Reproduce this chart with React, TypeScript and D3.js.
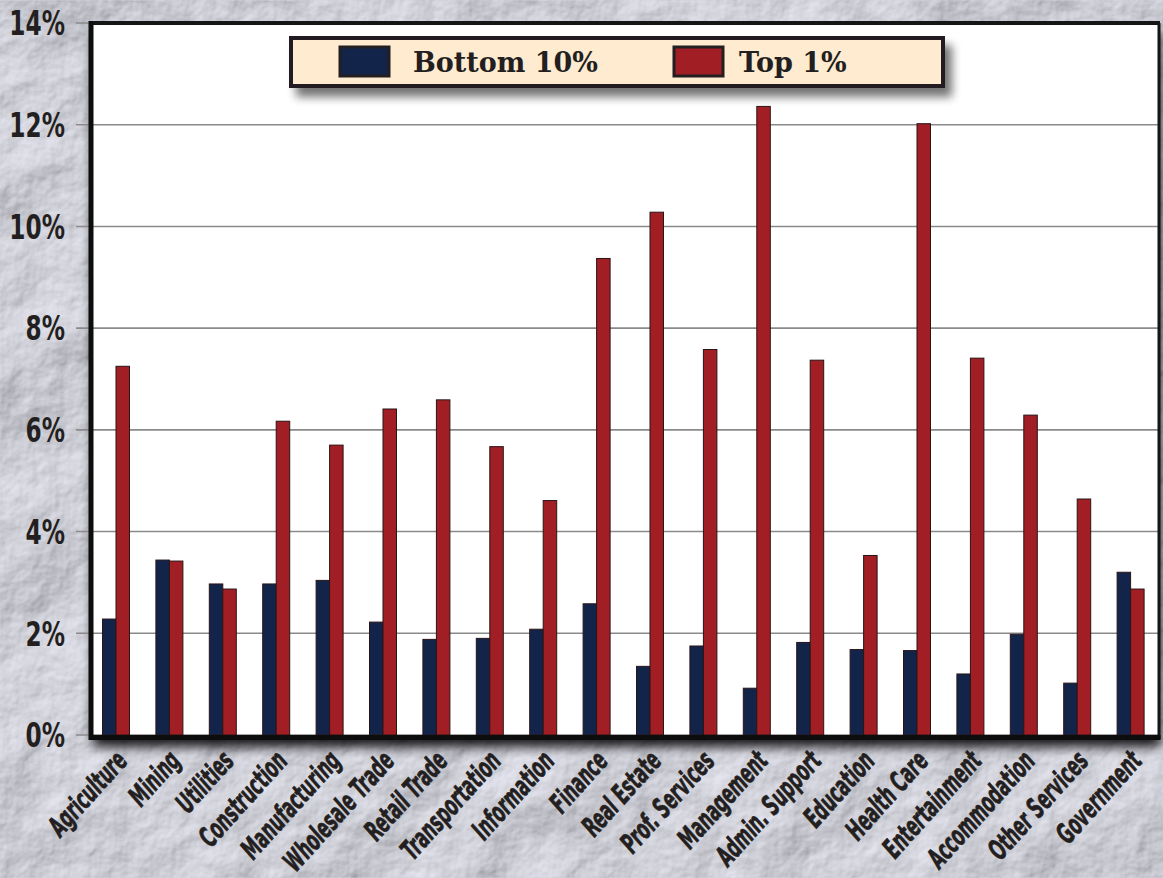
import React from "react";
import * as d3 from "d3";

const categories = [
  "Agriculture", "Mining", "Utilities", "Construction", "Manufacturing",
  "Wholesale Trade", "Retail Trade", "Transportation", "Information", "Finance",
  "Real Estate", "Prof. Services", "Management", "Admin. Support", "Education",
  "Health Care", "Entertainment", "Accommodation", "Other Services", "Government",
];
const bottom10 = [2.28, 3.44, 2.97, 2.97, 3.04, 2.22, 1.88, 1.9, 2.08, 2.58, 1.35, 1.75, 0.92, 1.82, 1.68, 1.66, 1.2, 1.98, 1.02, 3.2];
const top1 = [7.25, 3.42, 2.87, 6.17, 5.7, 6.41, 6.59, 5.67, 4.61, 9.37, 10.28, 7.58, 12.36, 7.37, 3.53, 12.02, 7.41, 6.29, 4.64, 2.87];
const seriesNames = ["Bottom 10%", "Top 1%"];
const seriesColors = ["#13244b", "#a11e24"];
const yTicks = [0, 2, 4, 6, 8, 10, 12, 14];

const W = 1163;
const H = 878;
const plotLeft = 91;
const plotRight = 1159;
const plotTop = 23;
const plotBottom = 735;

const sansFont = "'DejaVu Sans Condensed', 'DejaVu Sans', sans-serif";
const serifFont = "'DejaVu Serif', 'Liberation Serif', serif";

export default function App() {
  const y = d3.scaleLinear().domain([0, 14]).range([plotBottom, plotTop]);
  const x0 = d3.scaleBand<string>().domain(categories).range([plotLeft + 1, plotRight + 1]);
  const x1 = d3.scaleBand<string>().domain(seriesNames).range([0, 27]);
  const barOffset = 10.5;
  const values = [bottom10, top1];
  const legendX = [340, 674];
  const legendTextX = [413, 739];

  return (
    <svg width={W} height={H} style={{ position: "absolute", left: 0, top: 0, display: "block" }}>
      <defs>
        <filter id="paper" x="0" y="0" width="100%" height="100%">
          <feTurbulence type="fractalNoise" baseFrequency="0.007" numOctaves="6" seed="23" result="noise" />
          <feDiffuseLighting in="noise" lightingColor="#e4e4ee" surfaceScale="11" diffuseConstant="1.1" result="lit">
            <feDistantLight azimuth="235" elevation="47" />
          </feDiffuseLighting>
        </filter>
        <filter id="plotShadow" x="-5%" y="-5%" width="112%" height="115%">
          <feGaussianBlur in="SourceAlpha" stdDeviation="6" />
          <feOffset dx="2" dy="10" result="b" />
          <feComponentTransfer>
            <feFuncA type="linear" slope="0.9" />
          </feComponentTransfer>
          <feMerge>
            <feMergeNode />
            <feMergeNode in="SourceGraphic" />
          </feMerge>
        </filter>
        <filter id="legendShadow" x="-5%" y="-30%" width="115%" height="190%">
          <feGaussianBlur in="SourceAlpha" stdDeviation="5" />
          <feOffset dx="7" dy="9" />
          <feComponentTransfer>
            <feFuncA type="linear" slope="0.55" />
          </feComponentTransfer>
          <feMerge>
            <feMergeNode />
            <feMergeNode in="SourceGraphic" />
          </feMerge>
        </filter>
      </defs>

      {/* textured background */}
      <rect x={0} y={0} width={W} height={H} fill="#c8c8d2" />
      <rect x={0} y={0} width={W} height={H} filter="url(#paper)" />

      {/* plot area */}
      <rect x={plotLeft} y={plotTop} width={plotRight - plotLeft} height={plotBottom - plotTop + 2} fill="#ffffff" filter="url(#plotShadow)" />

      {/* gridlines and ticks */}
      {yTicks.map((t) => (
        <g key={t}>
          <line x1={76} x2={plotRight} y1={y(t)} y2={y(t)} stroke="#8a8a8a" strokeWidth={1.6} />
          <text
            transform={`translate(65,${y(t)}) scale(0.76,1)`}
            dy="0.36em"
            textAnchor="end"
            fontFamily={sansFont}
            fontWeight="bold"
            fontSize={34}
            fill="#231f20"
          >
            {t}%
          </text>
        </g>
      ))}

      {/* bars */}
      {categories.map((c, i) => (
        <g key={c} transform={`translate(${x0(c)! + barOffset},0)`}>
          {seriesNames.map((s, k) => {
            const v = values[k][i];
            return (
              <rect
                key={s}
                x={x1(s)!}
                y={y(v)}
                width={x1.bandwidth()}
                height={y(0) - y(v)}
                fill={seriesColors[k]}
                stroke="#2a1416"
                strokeWidth={1}
              />
            );
          })}
        </g>
      ))}

      {/* frame */}
      <line x1={plotLeft - 0.5} x2={plotRight + 1} y1={plotTop} y2={plotTop} stroke="#151515" strokeWidth={4} />
      <line x1={plotRight} x2={plotRight} y1={plotTop} y2={plotBottom + 4} stroke="#151515" strokeWidth={3} />
      <line x1={plotLeft - 0.5} x2={plotRight + 1.5} y1={plotBottom + 2.5} y2={plotBottom + 2.5} stroke="#0d0d0d" strokeWidth={5} />
      <line x1={plotLeft} x2={plotLeft} y1={plotTop - 2} y2={plotBottom + 5} stroke="#0d0d0d" strokeWidth={5} />

      {/* category labels */}
      {categories.map((c) => (
        <text
          key={c}
          transform={`translate(${x0(c)! + x0.bandwidth() / 2 + 10},${plotBottom + 27}) rotate(-48) scale(0.64,1)`}
          textAnchor="end"
          fontFamily={sansFont}
          fontWeight="bold"
          fontStyle="italic"
          fontSize={28}
          fill="#231f20"
          stroke="#231f20"
          strokeWidth={0.7}
        >
          {c}
        </text>
      ))}

      {/* legend */}
      <g filter="url(#legendShadow)">
        <rect x={291} y={38} width={652} height={48} fill="#feebd0" stroke="#231f20" strokeWidth={4} />
      </g>
      {seriesNames.map((s, k) => (
        <g key={s}>
          <rect x={legendX[k]} y={47} width={49} height={29} fill={seriesColors[k]} stroke="#231f20" strokeWidth={3} />
          <text x={legendTextX[k]} y={72} fontFamily={serifFont} fontWeight="bold" fontSize={27} fill="#231f20">
            {s}
          </text>
        </g>
      ))}
    </svg>
  );
}
